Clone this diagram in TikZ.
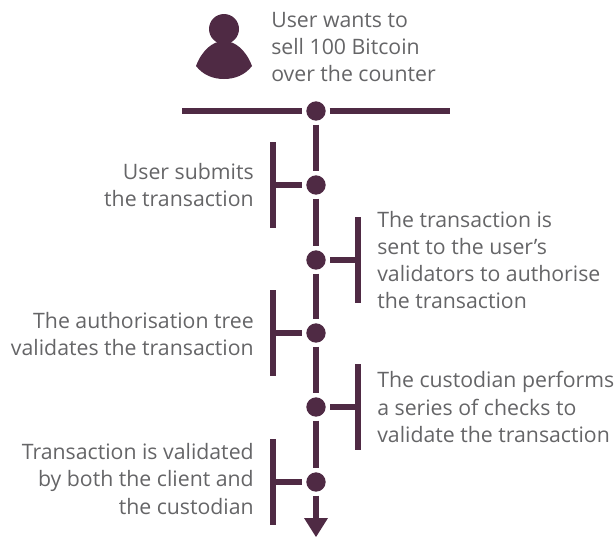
\documentclass[tikz,border=0pt]{standalone}
\usepackage{fontspec}
\setmainfont{Open Sans}
\definecolor{plum}{HTML}{4F2A44}
\definecolor{txt}{HTML}{656567}
\usetikzlibrary{calc}
\tikzset{
  dot/.style={circle,fill=plum,inner sep=0pt,minimum size=14.5pt,outer sep=3pt},
  lnk/.style={draw=plum,line width=3.8pt},
  lab/.style={text=txt,font=\fontsize{15.95}{20.3}\selectfont,inner sep=0pt},
  labl/.style={lab,align=right,anchor=east},
  labr/.style={lab,align=left,anchor=west},
  tip/.style={fill=plum}
}
\begin{document}
\begin{tikzpicture}[x=0.75pt,y=-0.75pt]
\useasboundingbox (0,0) rectangle (616,536);
% person
\fill[plum] (224,29) circle (15);
\fill[plum] (196,66) .. controls (202,50) and (213,41) .. (224,41) .. controls (235,41) and (246,50) .. (252,66) .. controls (245,75) and (235,79) .. (224,79) .. controls (213,79) and (203,75) .. (196,66) -- cycle;
\node[labr] (t0) at (271,47) {User wants to\\sell 100 Bitcoin\\over the counter};
% dots
\node[dot] (d0) at (316,111) {};
\node[dot] (d1) at (316,185) {};
\node[dot] (d2) at (316,260) {};
\node[dot] (d3) at (316,333) {};
\node[dot] (d4) at (316,407) {};
\node[dot] (d5) at (316,482) {};
\coordinate (hl) at (182,111);
\coordinate (hr) at (450,111);
\draw[lnk] (hl) -- (d0);
\draw[lnk] (d0) -- (hr);
\draw[lnk] (d0) -- (d1);
\draw[lnk] (d1) -- (d2);
\draw[lnk] (d2) -- (d3);
\draw[lnk] (d3) -- (d4);
\draw[lnk] (d4) -- (d5);
% brackets
\coordinate (b1) at (273,185);
\coordinate (b2) at (358,260);
\coordinate (b3) at (273,333);
\coordinate (b4) at (358,407);
\coordinate (b5) at (273,482);
\foreach \b/\d in {b1/d1,b2/d2,b3/d3,b4/d4,b5/d5}{
  \draw[lnk] ($(\b)+(0,-43)$) -- ($(\b)+(0,43)$);
  \draw[lnk] (\b) -- (\d);
}
% arrow
\coordinate (ae) at (316,518);
\draw[lnk] (d5) -- (ae);
\fill[tip] (304,518) -- (328,518) -- (316,537) -- cycle;
% labels
\node[labl] (t1) at (254,185) {User submits\\the transaction};
\node[labr] (t2) at (377,260) {The transaction is\\sent to the user’s\\validators to authorise\\the transaction};
\node[labl] (t3) at (254,334) {The authorisation tree\\validates the transaction};
\node[labr] (t4) at (377,407) {The custodian performs\\a series of checks to\\validate the transaction};
\node[labl] (t5) at (254,479) {Transaction is validated\\by both the client and\\the custodian};
\end{tikzpicture}
\end{document}
